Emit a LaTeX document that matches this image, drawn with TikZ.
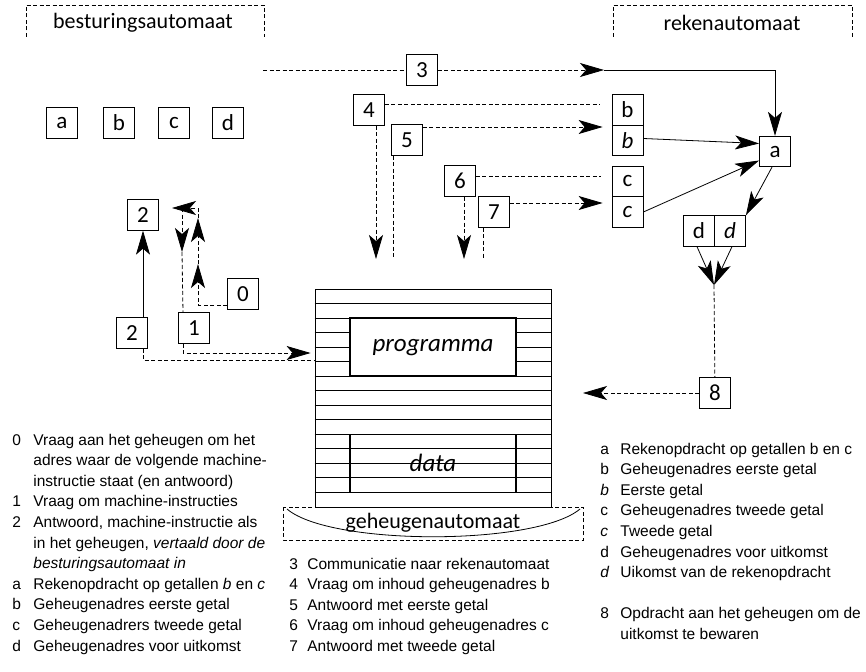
\documentclass[tikz,border=0pt]{standalone}
\usepackage{fontspec}
\setmainfont{Liberation Sans}
\newfontfamily\lblfont{Carlito}
\usetikzlibrary{arrows.meta}

\tikzset{
  tip/.tip={Stealth[length=24pt,width=14pt,inset=6pt]},
  dsh/.style={dash pattern=on 4pt off 2.5pt},
  cell/.style={draw,minimum width=31pt,minimum height=30.5pt,inner sep=0pt,
    font=\lblfont\fontsize{23}{23}\selectfont},
  head/.style={inner sep=0pt,font=\lblfont\fontsize{22}{22}\selectfont},
  store/.style={draw,line width=1.8pt,fill=white,minimum width=166pt,minimum height=58pt,
    inner sep=0pt,font=\lblfont\fontsize{25}{25}\selectfont\itshape},
  leg/.style={anchor=base west,inner sep=0pt,font=\fontsize{15.5}{20.6}\selectfont},
}

\begin{document}
\begin{tikzpicture}[x=1pt,y=-1pt,line width=0.8pt,>=tip]
\useasboundingbox (0,0) rectangle (866,671);

\node[head] (ctl) at (143,23) {besturingsautomaat};
\draw[dsh] (26,37) |- (264,5) -- (264,37);
\node[head] (alu) at (732,23) {rekenautomaat};
\draw[dsh] (613,37) |- (852,5) -- (852,37);

\node[cell] (sa) at (62,123) {a};
\node[cell] (sb) at (119,123) {b};
\node[cell] (sc) at (174,123) {c};
\node[cell] (sd) at (228,123) {d};

\node[cell] (n3) at (422,70) {3};
\node[cell] (n4) at (369,110) {4};
\node[cell] (n5) at (407,140) {5};
\node[cell] (n6) at (460,181) {6};
\node[cell] (n7) at (494,212) {7};
\node[cell] (rb) at (627.5,110) {b};
\node[cell] (rbi) at (627.5,140.5) {\itshape b};
\node[cell] (rc) at (627.5,181.5) {c};
\node[cell] (rci) at (627.5,212) {\itshape c};
\node[cell] (ra) at (775,151.5) {a};
\node[cell] (rd) at (699,231) {d};
\node[cell] (rdi) at (730,231) {\itshape d};
\node[cell] (n8) at (715,393) {8};
\node[cell] (t2) at (143,215) {2};
\node[cell] (b2) at (132,333) {2};
\node[cell] (n1) at (194,328) {1};
\node[cell] (n0) at (243,294) {0};

\node[draw,minimum width=236pt,minimum height=218pt,inner sep=0pt] (mem) at (433,398) {};
\foreach \k in {1,...,14}
  \draw (mem.west |- 0,{289+14.53*\k}) -- (mem.east |- 0,{289+14.53*\k});
\node[store] (prog) at (433,347.1) {programma};
\node[store,fill=none] (dat) at (433,463.4) {data};
\node[head] (gmem) at (433,523) {geheugenautomaat};
\draw[dsh] (283,507) rectangle (583,540);
\draw (287,509) .. controls (330,546) and (536,546) .. (580,509);

\coordinate (p3) at (263,70);
\coordinate (q3) at (604,70);
\coordinate (d4) at (376,259);
\coordinate (d5) at (393,258);
\coordinate (d6) at (464,259);
\coordinate (d7) at (483,258);
\coordinate (j8) at (714,285);
\coordinate (q8) at (583,393);
\coordinate (u0) at (198,264);
\coordinate (u1) at (198,218);
\coordinate (u2) at (198,208);
\coordinate (u3) at (172,208);
\coordinate (v0) at (182,208);
\coordinate (v1) at (182,252);

\draw[dsh] (p3) -- (n3);
\draw[dsh,->] (n3) -- (q3);
\draw[->] (q3) -| (ra);
\draw[dsh,shorten >=12pt] (n4.east |- 0,104) -- (rb.west |- 0,104);
\draw[dsh,->,shorten >=9pt] (n5.east |- 0,127) -- (rbi.west |- 0,127);
\draw[dsh,->] ([xshift=7pt]n4.south) -- (d4);
\draw[dsh] ([xshift=-14pt]n5.south) -- (d5);
\draw[dsh,shorten >=11pt] (n6.east |- 0,176) -- (rc.west |- 0,176);
\draw[dsh,->,shorten >=9pt] (n7.east |- 0,203) -- (rci.west |- 0,203);
\draw[dsh,->] ([xshift=4pt]n6.south) -- (d6);
\draw[dsh] ([xshift=-11pt]n7.south) -- (d7);
\draw[->] ([yshift=2pt]rbi.east) -- ([yshift=8pt]ra.west);
\draw[->] (rci.east) -- ([yshift=-9pt]ra.west);
\draw[->] ([xshift=-3pt]ra.south) -- (rdi.north east);
\draw[->] ([xshift=-2pt]rd.south) -- (j8);
\draw[->] ([xshift=2pt]rdi.south) -- (j8);
\draw[dsh] (j8) -- (n8);
\draw[dsh,->] (n8) -- (q8);

\draw[->] (b2.north -| t2) -- (t2);
\draw[dsh] (b2.south -| t2) |- (mem.west |- 0,360);
\draw[dsh,->,shorten >=4pt] ([xshift=-11pt]n1.south) |- (mem.west |- 0,353);
\draw[dsh,->] (n0.west |- 0,305) -| (u0);
\draw[dsh,->] (u0) -- (u1);
\draw[dsh,->] (u1) -- (u2) -- (u3);
\draw[dsh,->] (v0) -- (v1);
\draw[dsh] (v1) -- ([xshift=-11pt]n1.north);

\node[leg] (legl) at (12,445) {\begin{tabular}[t]{@{}p{21pt}@{}l@{}}
0 & Vraag aan het geheugen om het\\
  & adres waar de volgende machine-\\
  & instructie staat (en antwoord)\\
1 & Vraag om machine-instructies\\
2 & Antwoord, machine-instructie als\\
  & in het geheugen, \textit{vertaald door de}\\
  & \textit{besturingsautomaat in}\\
a & Rekenopdracht op getallen \textit{b} en \textit{c}\\
b & Geheugenadres eerste getal\\
c & Geheugenadrers tweede getal\\
d & Geheugenadres voor uitkomst
\end{tabular}};
\node[leg] (legm) at (289,569) {\begin{tabular}[t]{@{}p{18pt}@{}l@{}}
3 & Communicatie naar rekenautomaat\\
4 & Vraag om inhoud geheugenadres b\\
5 & Antwoord met eerste getal\\
6 & Vraag om inhoud geheugenadres c\\
7 & Antwoord met tweede getal
\end{tabular}};
\node[leg] (legr) at (600,454) {\begin{tabular}[t]{@{}p{20pt}@{}l@{}}
a & Rekenopdracht op getallen b en c\\
b & Geheugenadres eerste getal\\
\textit{b} & Eerste getal\\
c & Geheugenadres tweede getal\\
\textit{c} & Tweede getal\\
d & Geheugenadres voor uitkomst\\
\textit{d} & Uikomst van de rekenopdracht\\
  & \\
8 & Opdracht aan het geheugen om de\\
  & uitkomst te bewaren
\end{tabular}};
\end{tikzpicture}
\end{document}
